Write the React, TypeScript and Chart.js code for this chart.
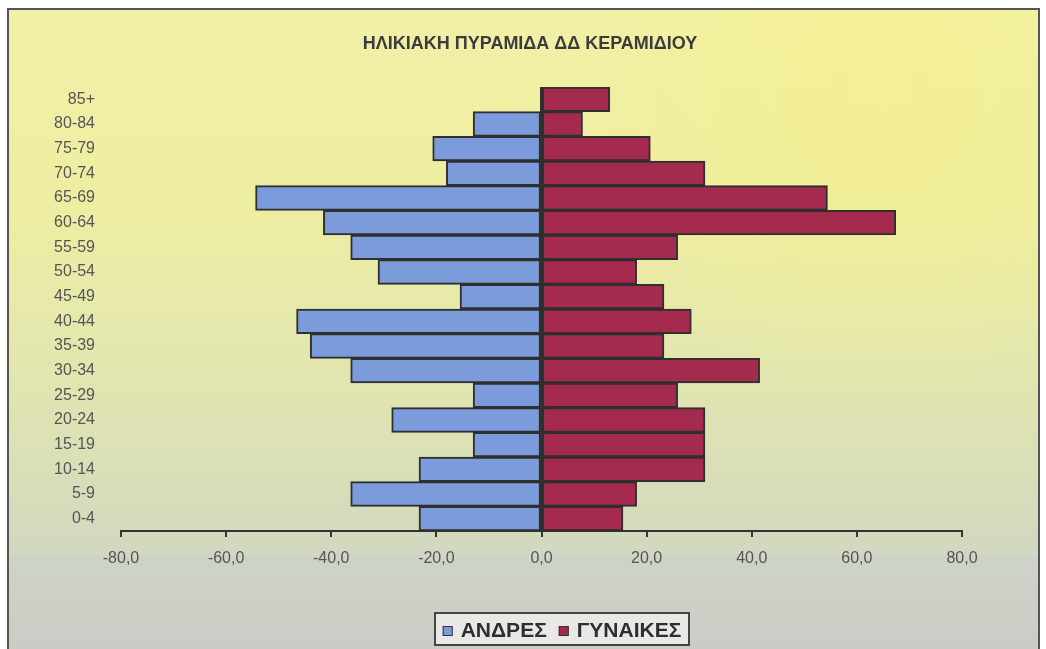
import React, { useEffect, useRef } from "react";
import { Chart, registerables } from "chart.js";

Chart.register(...registerables);

const chartTitle = "ΗΛΙΚΙΑΚΗ ΠΥΡΑΜΙΔΑ ΔΔ ΚΕΡΑΜΙΔΙΟΥ";
const ageGroups = [
  "85+", "80-84", "75-79", "70-74", "65-69", "60-64", "55-59", "50-54", "45-49",
  "40-44", "35-39", "30-34", "25-29", "20-24", "15-19", "10-14", "5-9", "0-4",
];
const menLabel = "ΑΝΔΡΕΣ";
const womenLabel = "ΓΥΝΑΙΚΕΣ";
const menValues = [
  0, -13.0, -20.7, -18.1, -54.4, -41.5, -36.3, -31.1, -15.5,
  -46.6, -44.0, -36.3, -13.0, -28.5, -13.0, -23.3, -36.3, -23.3,
];
const womenValues = [
  13.0, 7.8, 20.7, 31.1, 54.4, 67.4, 25.9, 18.1, 23.3,
  28.5, 23.3, 41.5, 25.9, 31.1, 31.1, 31.1, 18.1, 15.5,
];
const xMin = -80;
const xMax = 80;
const xStep = 20;

const MEN_COLOR = "#7B9BDB";
const WOMEN_COLOR = "#A52B4E";
const FONT = '"Liberation Sans", Arial, sans-serif';

const backgroundPlugin = {
  id: "bgFrame",
  beforeDraw(chart: any) {
    const ctx = chart.ctx;
    const W = chart.width;
    const H = chart.height;
    ctx.save();
    ctx.fillStyle = "#ffffff";
    ctx.fillRect(0, 0, W, H);
    const fx = 8, fy = 9, fr = 1039;
    const g = ctx.createLinearGradient(0, fy, 0, H);
    g.addColorStop(0, "#F2F0A6");
    g.addColorStop(0.3, "#EEEEA2");
    g.addColorStop(0.55, "#E3E7AE");
    g.addColorStop(0.85, "#D2D8C0");
    g.addColorStop(0.86, "#CED3C9");
    g.addColorStop(1, "#C9CDC5");
    ctx.fillStyle = g;
    ctx.fillRect(fx, fy, fr - fx, H - fy);
    const rg = ctx.createRadialGradient(880, 90, 10, 880, 90, 320);
    rg.addColorStop(0, "rgba(250,240,120,0.35)");
    rg.addColorStop(1, "rgba(250,240,120,0)");
    ctx.fillStyle = rg;
    ctx.fillRect(fx, fy, fr - fx, 420);
    ctx.strokeStyle = "#555555";
    ctx.lineWidth = 2;
    ctx.beginPath();
    ctx.moveTo(fx, H);
    ctx.lineTo(fx, fy);
    ctx.lineTo(fr, fy);
    ctx.lineTo(fr, H);
    ctx.stroke();
    ctx.restore();
  },
};

const zeroLinePlugin = {
  id: "zeroLine",
  afterDatasetsDraw(chart: any) {
    const ctx = chart.ctx;
    const xs = chart.scales.x;
    const area = chart.chartArea;
    const x0 = xs.getPixelForValue(0);
    ctx.save();
    ctx.strokeStyle = "#2f2f2f";
    ctx.lineWidth = 3;
    ctx.beginPath();
    ctx.moveTo(x0, area.top);
    ctx.lineTo(x0, area.bottom);
    ctx.stroke();
    ctx.restore();
  },
};

const titleLegendPlugin = {
  id: "titleLegend",
  afterDraw(chart: any) {
    const ctx = chart.ctx;
    ctx.save();
    ctx.font = `bold 18px ${FONT}`;
    ctx.fillStyle = "#3c3c3c";
    ctx.textAlign = "center";
    ctx.textBaseline = "alphabetic";
    ctx.fillText(chartTitle, 530, 49);

    const bx = 435, by = 613, bw = 254, bh = 32;
    ctx.fillStyle = "#E8E9E6";
    ctx.fillRect(bx, by, bw, bh);
    ctx.strokeStyle = "#444444";
    ctx.lineWidth = 2;
    ctx.strokeRect(bx, by, bw, bh);

    ctx.font = `bold 21px ${FONT}`;
    ctx.textAlign = "left";
    const items = [
      { label: chart.data.datasets[0].label, color: chart.data.datasets[0].backgroundColor },
      { label: chart.data.datasets[1].label, color: chart.data.datasets[1].backgroundColor },
    ];
    const mk = 10, gapIn = 8, gapOut = 12;
    const widths = items.map((it) => ctx.measureText(it.label).width);
    const total = items.length * (mk + gapIn) + widths.reduce((a, b) => a + b, 0) + gapOut;
    let x = bx + (bw - total) / 2;
    items.forEach((it, i) => {
      ctx.fillStyle = it.color;
      ctx.fillRect(x, 626, mk, mk);
      ctx.strokeStyle = "#333";
      ctx.lineWidth = 1;
      ctx.strokeRect(x + 0.5, 626.5, mk - 1, mk - 1);
      x += mk + gapIn;
      ctx.fillStyle = "#2e2e2e";
      ctx.fillText(it.label, x, 637);
      x += widths[i] + gapOut;
    });
    ctx.restore();
  },
};

export default function App() {
  const canvasRef = useRef<HTMLCanvasElement | null>(null);

  useEffect(() => {
    if (!canvasRef.current) return;
    const fmt = (v: any) => Number(v).toFixed(1).replace(".", ",");
    const chart = new Chart(canvasRef.current, {
      type: "bar",
      data: {
        labels: ageGroups,
        datasets: [
          {
            label: menLabel,
            data: menValues,
            backgroundColor: MEN_COLOR,
            borderColor: "#2f2f2f",
            borderWidth: 2,
            borderSkipped: false,
            barPercentage: 1,
            categoryPercentage: 1,
          },
          {
            label: womenLabel,
            data: womenValues,
            backgroundColor: WOMEN_COLOR,
            borderColor: "#2f2f2f",
            borderWidth: 2,
            borderSkipped: false,
            barPercentage: 1,
            categoryPercentage: 1,
          },
        ],
      },
      options: {
        indexAxis: "y",
        responsive: true,
        maintainAspectRatio: false,
        animation: false,
        layout: { padding: { left: 0, right: 84, top: 87, bottom: 0 } },
        plugins: {
          legend: { display: false },
          title: { display: false },
          tooltip: { enabled: false },
        },
        scales: {
          x: {
            type: "linear",
            min: xMin,
            max: xMax,
            stacked: true,
            ticks: {
              stepSize: xStep,
              callback: (v: any) => fmt(v),
              color: "#555555",
              font: { family: FONT, size: 16 },
              padding: 12,
              maxRotation: 0,
              autoSkip: false,
            },
            grid: {
              display: true,
              drawOnChartArea: false,
              drawTicks: true,
              tickLength: 6,
              color: "#333333",
              lineWidth: 2,
            },
            border: { display: true, color: "#333333", width: 2 },
            afterFit: (s: any) => {
              s.height = 118;
            },
          },
          y: {
            stacked: true,
            grid: { display: false, drawTicks: false },
            border: { display: false },
            ticks: {
              color: "#555555",
              font: { family: FONT, size: 16 },
              padding: 26,
              autoSkip: false,
            },
            afterFit: (s: any) => {
              s.width = 121;
            },
          },
        },
      } as any,
      plugins: [backgroundPlugin, zeroLinePlugin, titleLegendPlugin],
    });
    return () => chart.destroy();
  }, []);

  return (
    <div style={{ position: "fixed", left: 0, top: 0, width: 1046, height: 649 }}>
      <canvas ref={canvasRef} />
    </div>
  );
}
